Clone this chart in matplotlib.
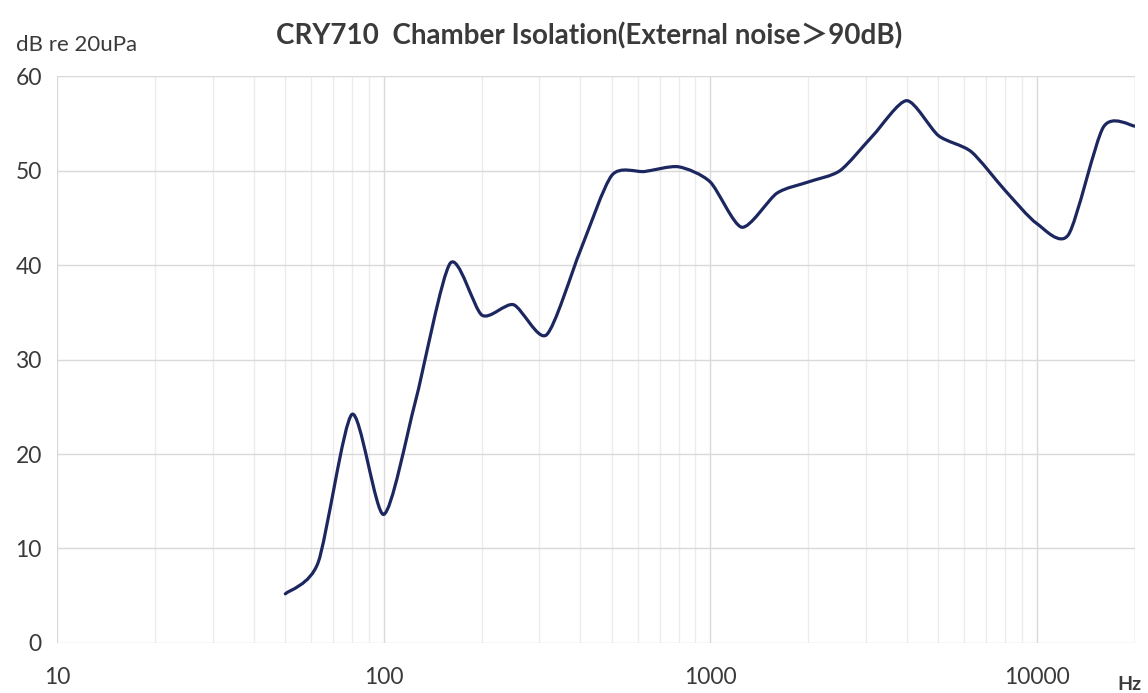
import numpy as np
import matplotlib.pyplot as plt
from matplotlib.path import Path
from matplotlib.patches import PathPatch
from matplotlib.ticker import FixedLocator, LogLocator, NullFormatter

plt.rcParams['font.family'] = ['Lato', 'Noto Sans CJK SC', 'DejaVu Sans']

# 1/3-octave band centres (Hz) and measured isolation (dB)
freq = [50, 63, 80, 100, 125, 160, 200, 250, 315, 400, 500, 630, 800, 1000,
        1250, 1600, 2000, 2500, 3150, 4000, 5000, 6300, 8000, 10000, 12500,
        16000, 20000]
level = [5.2, 8.5, 24.2, 13.6, 25.5, 40.2, 34.7, 35.8, 32.6, 41.5, 49.5, 49.9,
         50.4, 48.8, 44.0, 47.6, 48.8, 50.0, 53.7, 57.4, 53.7, 52.0, 47.9, 44.4,
         43.2, 54.6, 54.7]

y_ticks = [0, 10, 20, 30, 40, 50, 60]
x_ticks = [10, 100, 1000, 10000]
x_labels = ['10', '100', '1000', '10000']

title = 'CRY710  Chamber Isolation(External noise\uff1e90dB)'
y_unit = 'dB re 20uPa'
x_unit = 'Hz'


def smooth_path(xs, ys, k=1 / 8):
    # smoothed line like the spreadsheet one: cubic bezier segments in log-x space
    lx = np.log10(xs)
    y = np.asarray(ys, dtype=float)
    n = len(lx)
    verts = [(xs[0], y[0])]
    codes = [Path.MOVETO]
    for i in range(n - 1):
        p0 = max(i - 1, 0)
        p3 = min(i + 2, n - 1)
        c1x = lx[i] + (lx[i + 1] - lx[p0]) * k
        c1y = y[i] + (y[i + 1] - y[p0]) * k
        c2x = lx[i + 1] - (lx[p3] - lx[i]) * k
        c2y = y[i + 1] - (y[p3] - y[i]) * k
        verts += [(10 ** c1x, c1y), (10 ** c2x, c2y), (xs[i + 1], y[i + 1])]
        codes += [Path.CURVE4] * 3
    return Path(verts, codes)


fig = plt.figure(figsize=(11.48, 6.93), dpi=100)
ax = fig.add_axes([0.0497, 0.0722, 0.939, 0.818])
ax.set_xscale('log')
ax.set_xlim(10, 20000)
ax.set_ylim(0, 60)

ax.add_patch(PathPatch(smooth_path(freq, level), fill=False,
                       edgecolor='#1c2760', linewidth=2.3, capstyle='round',
                       joinstyle='round', zorder=3))

ax.yaxis.set_major_locator(FixedLocator(y_ticks))
ax.xaxis.set_major_locator(FixedLocator(x_ticks))
ax.set_xticklabels(x_labels)
ax.xaxis.set_minor_locator(LogLocator(base=10, subs=np.arange(2, 10)))
ax.xaxis.set_minor_formatter(NullFormatter())

ax.grid(True, which='major', color='#d9d9d9', linewidth=1.0)
ax.grid(True, which='minor', axis='x', color='#ececec', linewidth=1.0)
ax.set_axisbelow(True)

for s in ax.spines.values():
    s.set_visible(False)
ax.axvline(20000, color='#d9d9d9', linewidth=1.0)

ax.tick_params(which='both', length=0)
ax.tick_params(axis='x', pad=17, labelsize=16.5, labelcolor='#3a3a3a')
ax.tick_params(axis='y', pad=11, labelsize=16.5, labelcolor='#3a3a3a')

fig.text(0.513, 0.948, title, ha='center', va='center', fontsize=20,
         fontweight='bold', color='#3a3a3a')
fig.text(0.014, 0.935, y_unit, ha='left', va='center', fontsize=16,
         color='#3a3a3a')
fig.text(0.973, 0.012, x_unit, ha='left', va='center', fontsize=14,
         fontweight='bold', color='#3a3a3a')

fig.savefig('out.png', dpi=100)
